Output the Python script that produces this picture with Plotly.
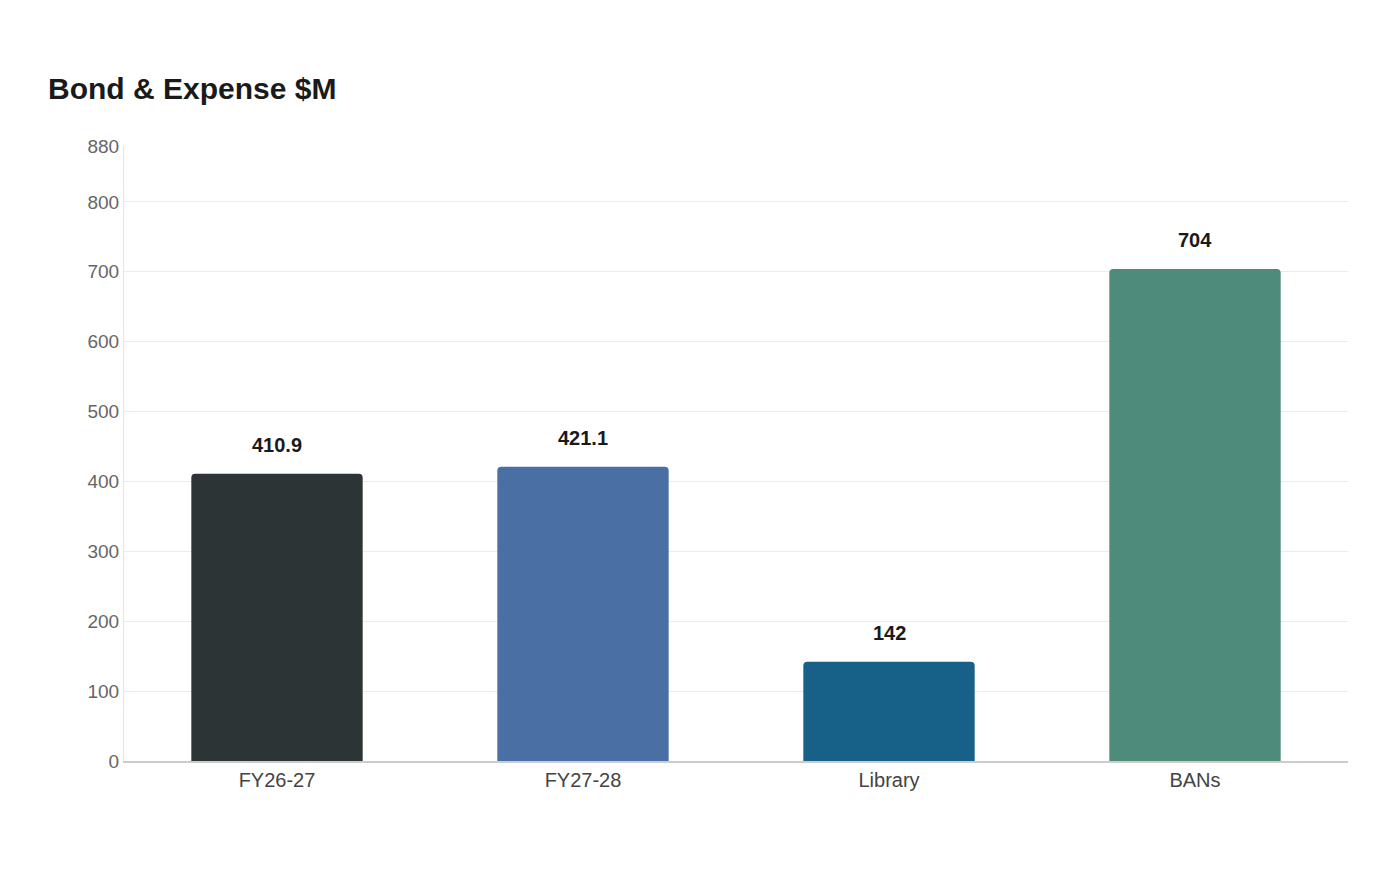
import plotly.graph_objects as go

categories = ["FY26-27", "FY27-28", "Library", "BANs"]
values = [410.9, 421.1, 142, 704]
labels = ["410.9", "421.1", "142", "704"]
colors = ["#2d3436", "#4a6fa5", "#176087", "#4e8b7a"]
y_ticks = [0, 100, 200, 300, 400, 500, 600, 700, 800, 880]

fig = go.Figure(go.Bar(
    x=categories, y=values, marker=dict(color=colors, line=dict(width=0), cornerradius=4),
    width=0.56, hoverinfo="x+y",
))
for c, v, t in zip(categories, values, labels):
    fig.add_annotation(x=c, y=v, text=f"<b>{t}</b>", showarrow=False, yshift=29,
                       font=dict(size=20, color="#1a1a1a"))

fig.update_layout(
    width=1400, height=880, paper_bgcolor="white", plot_bgcolor="white",
    margin=dict(l=116, r=60, t=138, b=127),
    font=dict(family="Liberation Sans, Arial, sans-serif"),
    title=dict(text="<b>Bond & Expense $M</b>", x=40 / 1400, xanchor="left", y=1 - 80 / 880,
               yanchor="middle", font=dict(size=30, color="#1a1a1a")),
    showlegend=False, bargap=0.44,
)
fig.update_yaxes(range=[0, 880], tickvals=y_ticks, gridcolor="#ebebeb", zeroline=False,
                 showline=True, linecolor="#e6e6e6", ticks="", ticklen=0,
                 tickfont=dict(size=19, color="#666666"))
fig.update_xaxes(showline=True, linecolor="#cccccc", linewidth=1.5, ticks="",
                 tickfont=dict(size=20, color="#444444"))
fig.write_html("out.html")
